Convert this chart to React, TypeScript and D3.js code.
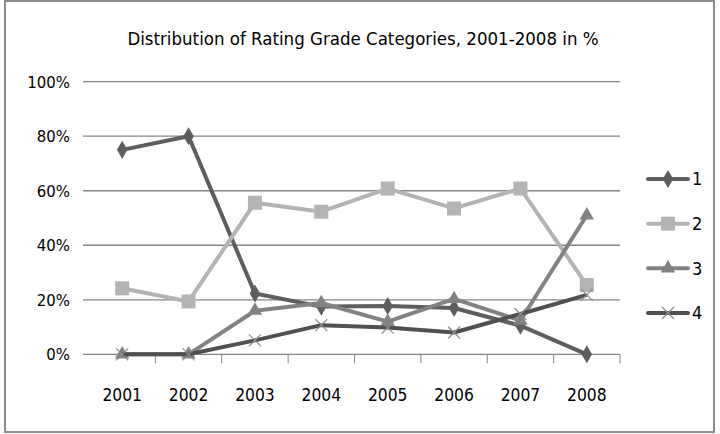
import * as d3 from 'd3';

// chart data
const years = ['2001', '2002', '2003', '2004', '2005', '2006', '2007', '2008'];
const grade1 = [75, 80, 22.3, 17.5, 17.7, 17, 10.5, 0];
const grade2 = [24.2, 19.4, 55.6, 52.3, 60.8, 53.5, 60.8, 25.4];
const grade3 = [0, 0, 16, 18.8, 12, 20.3, 12.4, 51];
const grade4 = [0, 0, 5.1, 10.7, 9.8, 8, 14.8, 21.8];
const seriesNames = ['1', '2', '3', '4'];
const yTicks = [0, 20, 40, 60, 80, 100];
const title = 'Distribution of Rating Grade Categories, 2001-2008 in %';

const W = 720;
const H = 434;
const font = '"DejaVu Sans Condensed", "Liberation Sans Narrow", "Open Sans", sans-serif';

const series = [
  { name: seriesNames[0], values: grade1, color: '#5e5e5e', marker: 'diamond' },
  { name: seriesNames[1], values: grade2, color: '#b3b3b3', marker: 'square' },
  { name: seriesNames[2], values: grade3, color: '#828282', marker: 'triangle' },
  { name: seriesNames[3], values: grade4, color: '#505050', marker: 'x' },
];

function Marker({ kind, cx, cy, color }: { kind: string; cx: number; cy: number; color: string }) {
  if (kind === 'diamond') {
    const p = d3.symbol(d3.symbolDiamond, 95)();
    return <path d={p || ''} transform={`translate(${cx},${cy})`} fill={color} />;
  }
  if (kind === 'square') {
    return <rect x={cx - 7} y={cy - 7} width={14} height={14} fill={color} />;
  }
  if (kind === 'triangle') {
    const p = d3.symbol(d3.symbolTriangle, 90)();
    return <path d={p || ''} transform={`translate(${cx},${cy})`} fill={color} />;
  }
  return (
    <g stroke="#8e8e8e" strokeWidth={1.2}>
      <line x1={cx - 6} y1={cy - 6} x2={cx + 6} y2={cy + 6} />
      <line x1={cx - 6} y1={cy + 6} x2={cx + 6} y2={cy - 6} />
    </g>
  );
}

export default function App() {
  const x = d3.scaleBand().domain(years).range([89, 620]);
  const y = d3.scaleLinear().domain([0, 100]).range([354.3, 81.7]);
  const cx = (d: string) => (x(d) || 0) + x.bandwidth() / 2;

  const line = d3
    .line<number>()
    .x((_, i) => cx(years[i]))
    .y((v) => y(v));

  const legendY = d3.scalePoint().domain(seriesNames).range([179, 313]);

  return (
    <svg width={W} height={H} style={{ position: 'absolute', left: 0, top: 0, background: '#fff' }}>
      <rect x={5} y={1} width={709} height={431} fill="#fff" stroke="#8a8a8a" strokeWidth={2} />
      <text x={363} y={45} textAnchor="middle" fontFamily={font} fontSize={18.5} fill="#000">
        {title}
      </text>

      {yTicks.map((t) => (
        <g key={t}>
          <line x1={83} x2={620} y1={y(t)} y2={y(t)} stroke="#868686" strokeWidth={1.3} />
          <text x={70} y={y(t)} dy="0.36em" textAnchor="end" fontFamily={font} fontSize={16.6} fill="#000">
            {t}%
          </text>
        </g>
      ))}

      {years.slice(1).map((d) => (
        <line key={d} x1={x(d)} x2={x(d)} y1={y(0)} y2={y(0) + 9} stroke="#868686" strokeWidth={1} />
      ))}
      <line x1={620} x2={620} y1={y(0)} y2={y(0) + 9} stroke="#868686" strokeWidth={1} />

      {years.map((d) => (
        <text key={d} x={cx(d)} y={395} dy="0.36em" textAnchor="middle" fontFamily={font} fontSize={17.3} fill="#000">
          {d}
        </text>
      ))}

      {series.map((s) => (
        <g key={s.name}>
          <path d={line(s.values) || ''} fill="none" stroke={s.color} strokeWidth={4} strokeLinejoin="round" />
          {s.values.map((v, i) => (
            <Marker key={i} kind={s.marker} cx={cx(years[i])} cy={y(v)} color={s.color} />
          ))}
        </g>
      ))}

      {series.map((s) => {
        const ly = legendY(s.name) || 0;
        return (
          <g key={s.name}>
            <line x1={648} x2={688} y1={ly} y2={ly} stroke={s.color} strokeWidth={4} strokeLinecap="round" />
            <Marker kind={s.marker} cx={668} cy={ly} color={s.color} />
            <text x={692} y={ly} dy="0.36em" fontFamily={font} fontSize={18} fill="#000">
              {s.name}
            </text>
          </g>
        );
      })}
    </svg>
  );
}
